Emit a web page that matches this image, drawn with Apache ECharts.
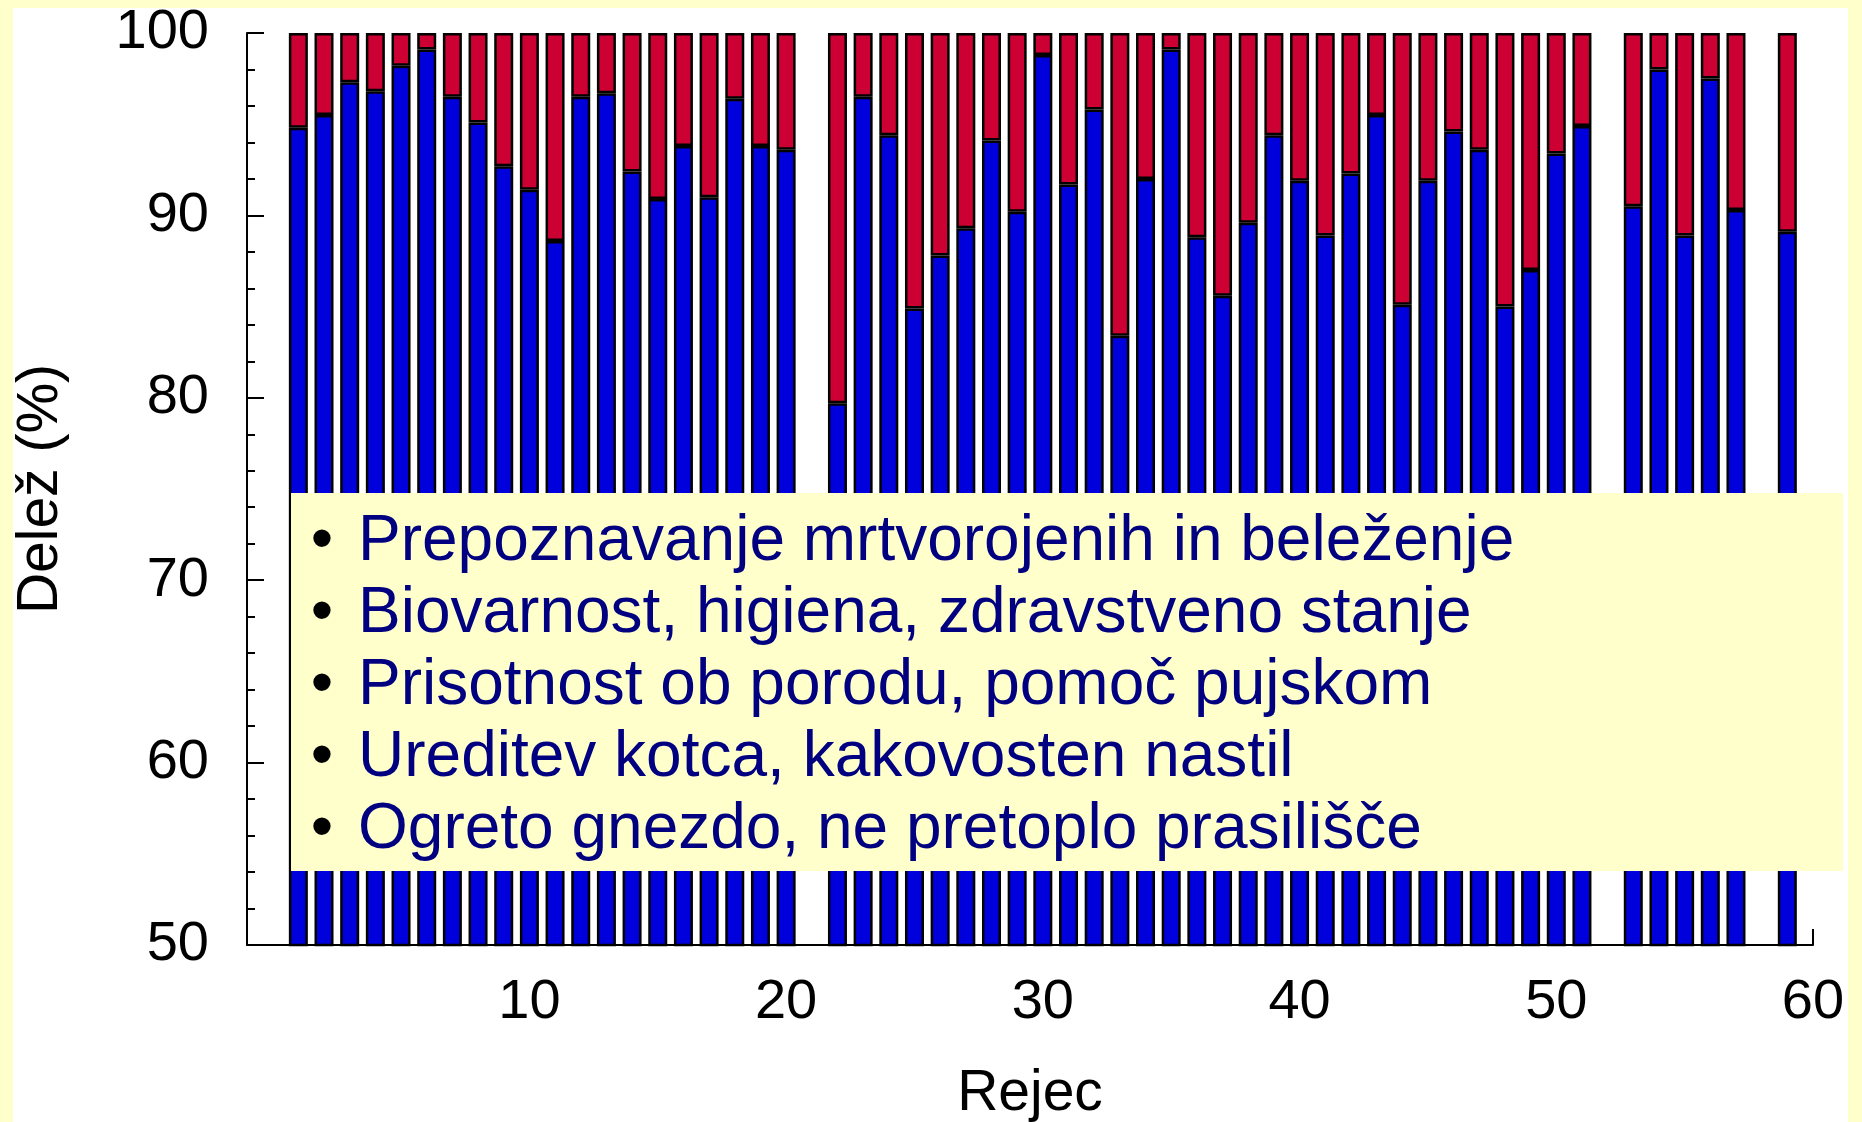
<!DOCTYPE html>
<html>
<head>
<meta charset="utf-8">
<script src="https://cdn.jsdelivr.net/npm/echarts@6/dist/echarts.min.js"></script>
<style>
  html, body { margin: 0; padding: 0; background: #FFFFCC; }
  #chart { width: 1862px; height: 1122px; }
</style>
</head>
<body>
<div id="chart"></div>
<script>
// rejec (farm) numbers on the x axis; 21, 52 and 58 have no bar
const rejci = [1, 2, 3, 4, 5, 6, 7, 8, 9, 10, 11, 12, 13, 14, 15, 16, 17, 18, 19, 20,
  22, 23, 24, 25, 26, 27, 28, 29, 30, 31, 32, 33, 34, 35, 36, 37, 38, 39, 40, 41,
  42, 43, 44, 45, 46, 47, 48, 49, 50, 51,
  53, 54, 55, 56, 57,
  59];

// blue part (bottom)
const modri = [94.8, 95.5, 97.3, 96.8, 98.2, 99.1, 96.5, 95.1, 92.7, 91.4, 88.6, 96.5, 96.7, 92.4, 90.9, 93.8, 91.0, 96.4, 93.8, 93.6,
  79.7, 96.5, 94.4, 84.9, 87.8, 89.3, 94.1, 90.2, 98.8, 91.7, 95.8, 83.4, 92.0, 99.1, 88.8, 85.6, 89.6, 94.4, 91.9, 88.9,
  92.3, 95.5, 85.1, 91.9, 94.6, 93.6, 85.0, 87.0, 93.4, 94.9,
  90.5, 98.0, 88.9, 97.5, 90.3,
  89.1];

// red part (top, up to 100)
const rdeci = [5.2, 4.5, 2.7, 3.2, 1.8, 0.9, 3.5, 4.9, 7.3, 8.6, 11.4, 3.5, 3.3, 7.6, 9.1, 6.2, 9.0, 3.6, 6.2, 6.4,
  20.3, 3.5, 5.6, 15.1, 12.2, 10.7, 5.9, 9.8, 1.2, 8.3, 4.2, 16.6, 8.0, 0.9, 11.2, 14.4, 10.4, 5.6, 8.1, 11.1,
  7.7, 4.5, 14.9, 8.1, 5.4, 6.4, 15.0, 13.0, 6.6, 5.1,
  9.5, 2.0, 11.1, 2.5, 9.7,
  10.9];

const xLabels = [10, 20, 30, 40, 50, 60];

const besedilo = [
  'Prepoznavanje mrtvorojenih in beleženje',
  'Biovarnost, higiena, zdravstveno stanje',
  'Prisotnost ob porodu, pomoč pujskom',
  'Ureditev kotca, kakovosten nastil',
  'Ogreto gnezdo, ne pretoplo prasilišče'
];

const FONT = '"Liberation Sans", Arial, sans-serif';

const chart = echarts.init(document.getElementById('chart'), null, { renderer: 'canvas' });

// text box lines
const boxLines = [];
besedilo.forEach((t, i) => {
  const cy = 542 + i * 72;
  boxLines.push({
    type: 'text', z: 101, x: 322, y: cy,
    style: { text: '•', font: '64px ' + FONT, fill: '#000000', align: 'center', verticalAlign: 'middle' }
  });
  boxLines.push({
    type: 'text', z: 101, x: 358, y: cy,
    style: { text: t, font: '64px ' + FONT, fill: '#000080', align: 'left', verticalAlign: 'middle' }
  });
});

// value dimension first so the stack adds up the y values
function barData(vals) {
  return rejci.map((r, i) => [vals[i], r]);
}

const option = {
  backgroundColor: '#FFFFCC',
  animation: false,
  graphic: [
    { type: 'rect', z: -10, shape: { x: 13, y: 8, width: 1835, height: 1114 }, style: { fill: '#ffffff' } },
    { type: 'rect', z: 100, shape: { x: 291, y: 493, width: 1552, height: 378 }, style: { fill: '#FFFFCC' } }
  ].concat(boxLines),
  grid: { left: 247, right: 49, top: 33, bottom: 177, containLabel: false, outerBoundsMode: 'none' },
  xAxis: {
    type: 'value',
    min: -1,
    max: 60,
    name: 'Rejec',
    nameLocation: 'middle',
    nameGap: 121,
    nameTextStyle: { fontSize: 57, fontFamily: FONT, color: '#000' },
    axisLine: { show: true, onZero: false, lineStyle: { color: '#000', width: 2 } },
    axisTick: { show: true, inside: true, length: 16, customValues: xLabels, lineStyle: { color: '#000', width: 2 } },
    axisLabel: { customValues: xLabels, fontSize: 56, fontFamily: FONT, color: '#000', margin: 30 },
    splitLine: { show: false }
  },
  yAxis: {
    type: 'value',
    min: 50,
    max: 100,
    interval: 10,
    name: 'Delež (%)',
    nameLocation: 'middle',
    nameRotate: 90,
    nameGap: 177,
    nameTextStyle: { fontSize: 57, fontFamily: FONT, color: '#000' },
    axisLine: { show: true, onZero: false, lineStyle: { color: '#000', width: 2 } },
    axisTick: { show: true, inside: true, length: 17, lineStyle: { color: '#000', width: 2 } },
    minorTick: { show: true, splitNumber: 5, length: 8, lineStyle: { color: '#000', width: 2 } },
    axisLabel: { fontSize: 56, fontFamily: FONT, color: '#000', margin: 38 },
    splitLine: { show: false }
  },
  series: [
    {
      type: 'bar',
      stack: 'delez',
      barWidth: 19,
      encode: { x: 1, y: 0 },
      data: barData(modri),
      itemStyle: { color: '#0000DD', borderColor: '#000', borderWidth: 2.5 }
    },
    {
      type: 'bar',
      stack: 'delez',
      barWidth: 19,
      encode: { x: 1, y: 0 },
      data: barData(rdeci),
      itemStyle: { color: '#CC0033', borderColor: '#000', borderWidth: 2.5 }
    }
  ]
};

chart.setOption(option);
</script>
</body>
</html>
